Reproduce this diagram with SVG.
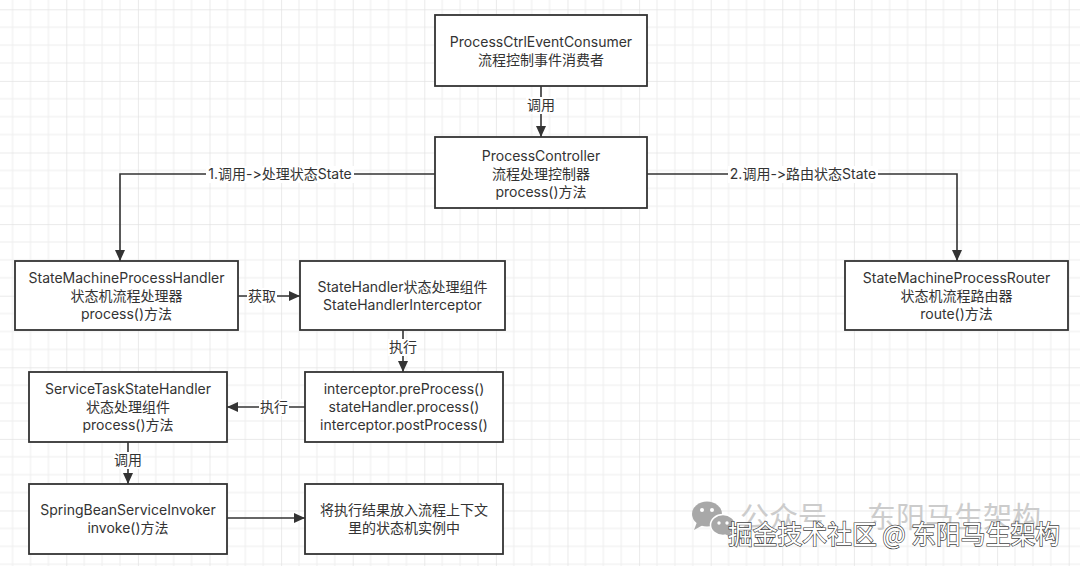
<svg xmlns="http://www.w3.org/2000/svg" width="1080" height="566" viewBox="0 0 1080 566">
<defs>
<pattern id="grid" patternUnits="userSpaceOnUse" x="66.3" y="9.3" width="71.6" height="71.6">
<rect x="0" y="0" width="71.6" height="71.6" fill="#ffffff"/>
<rect x="17.4" y="0" width="1" height="71.6" fill="#efefef"/>
<rect x="35.3" y="0" width="1" height="71.6" fill="#efefef"/>
<rect x="53.2" y="0" width="1" height="71.6" fill="#efefef"/>
<rect x="0" y="17.4" width="71.6" height="1" fill="#efefef"/>
<rect x="0" y="35.3" width="71.6" height="1" fill="#efefef"/>
<rect x="0" y="53.2" width="71.6" height="1" fill="#efefef"/>
<rect x="-0.5" y="0" width="1.2" height="71.6" fill="#e2e2e2"/>
<rect x="0" y="-0.5" width="71.6" height="1.2" fill="#e2e2e2"/>
</pattern>
<marker id="arr" markerUnits="userSpaceOnUse" markerWidth="12" markerHeight="12" viewBox="0 0 12 12" refX="11" refY="5" orient="auto">
<path d="M0,0 L11,5 L0,10 z" fill="#333333"/>
</marker>
</defs>
<style>
.box{fill:#ffffff;stroke:#333333;stroke-width:1.8}
.t{font-family:Inter,"Noto Sans CJK SC",sans-serif;font-size:14px;fill:#333333;text-anchor:middle;font-variant-ligatures:none;font-feature-settings:"calt" 0,"liga" 0}
.edge{fill:none;stroke:#333333;stroke-width:1.6}
.lbg{fill:#ffffff}
</style>
<rect width="1080" height="566" fill="url(#grid)"/>

<g id="connectors">
<path class="edge" d="M541 86 V137" marker-end="url(#arr)"/>
<path class="edge" d="M435 174 H120 V261" marker-end="url(#arr)"/>
<path class="edge" d="M647 174 H957 V261" marker-end="url(#arr)"/>
<path class="edge" d="M238 296 H300" marker-end="url(#arr)"/>
<path class="edge" d="M403 330 V372" marker-end="url(#arr)"/>
<path class="edge" d="M305 407 H227" marker-end="url(#arr)"/>
<path class="edge" d="M128 442 V484" marker-end="url(#arr)"/>
<path class="edge" d="M227 518 H305" marker-end="url(#arr)"/>
<rect class="lbg" x="526" y="97" width="30" height="17"/>
<text class="t" x="541" y="110">调用</text>
<rect class="lbg" x="206" y="166" width="148" height="17"/>
<text class="t" x="280" y="179">1.调用-&gt;处理状态State</text>
<rect class="lbg" x="728" y="166" width="150" height="17"/>
<text class="t" x="803" y="179">2.调用-&gt;路由状态State</text>
<rect class="lbg" x="247" y="288" width="30" height="17"/>
<text class="t" x="262" y="301">获取</text>
<rect class="lbg" x="388" y="339" width="30" height="17"/>
<text class="t" x="403" y="352">执行</text>
<rect class="lbg" x="259" y="399" width="30" height="17"/>
<text class="t" x="274" y="412">执行</text>
<rect class="lbg" x="113" y="452" width="30" height="17"/>
<text class="t" x="128" y="465">调用</text>
</g>

<g id="consumer">
<rect class="box" x="435" y="15" width="212" height="71"/>
<text class="t" x="541" y="46.5">ProcessCtrlEventConsumer</text>
<text class="t" x="541" y="64.5">流程控制事件消费者</text>
</g>

<g id="controller">
<rect class="box" x="435" y="137" width="212" height="71"/>
<text class="t" x="541" y="160.5">ProcessController</text>
<text class="t" x="541" y="178.5">流程处理控制器</text>
<text class="t" x="541" y="196.5">process()方法</text>
</g>

<g id="handler">
<rect class="box" x="15" y="261" width="223" height="69"/>
<text class="t" x="126.5" y="282.5">StateMachineProcessHandler</text>
<text class="t" x="126.5" y="300.5">状态机流程处理器</text>
<text class="t" x="126.5" y="318.5">process()方法</text>
</g>

<g id="statehandler">
<rect class="box" x="300" y="261" width="205" height="69"/>
<text class="t" x="402.5" y="291.5">StateHandler状态处理组件</text>
<text class="t" x="402.5" y="309.5">StateHandlerInterceptor</text>
</g>

<g id="router">
<rect class="box" x="845" y="261" width="223" height="69"/>
<text class="t" x="956.5" y="282.5">StateMachineProcessRouter</text>
<text class="t" x="956.5" y="300.5">状态机流程路由器</text>
<text class="t" x="956.5" y="318.5">route()方法</text>
</g>

<g id="interceptor">
<rect class="box" x="305" y="372" width="198" height="70"/>
<text class="t" x="404" y="394">interceptor.preProcess()</text>
<text class="t" x="404" y="412">stateHandler.process()</text>
<text class="t" x="404" y="430">interceptor.postProcess()</text>
</g>

<g id="servicetask">
<rect class="box" x="29" y="372" width="198" height="70"/>
<text class="t" x="128" y="394">ServiceTaskStateHandler</text>
<text class="t" x="128" y="412">状态处理组件</text>
<text class="t" x="128" y="430">process()方法</text>
</g>

<g id="invoker">
<rect class="box" x="29" y="484" width="198" height="70"/>
<text class="t" x="128" y="515">SpringBeanServiceInvoker</text>
<text class="t" x="128" y="533">invoke()方法</text>
</g>

<g id="result">
<rect class="box" x="305" y="484" width="198" height="70"/>
<text class="t" x="404" y="515">将执行结果放入流程上下文</text>
<text class="t" x="404" y="533">里的状态机实例中</text>
</g>

<g id="watermark">
<ellipse cx="707" cy="514" rx="15" ry="12.5" fill="#a8a8a8"/>
<path d="M697 522 L694 530 L703 525 z" fill="#a8a8a8"/>
<circle cx="702" cy="510" r="2" fill="#ffffff"/>
<circle cx="712" cy="510" r="2" fill="#ffffff"/>
<ellipse cx="723" cy="525" rx="12.5" ry="10.5" fill="#a8a8a8" stroke="#ffffff" stroke-width="1.5"/>
<path d="M730 532 L734 539 L725 534 z" fill="#a8a8a8"/>
<circle cx="719" cy="523" r="1.7" fill="#ffffff"/>
<circle cx="727" cy="523" r="1.7" fill="#ffffff"/>
<text x="740" y="528" font-family="'Noto Sans CJK SC',sans-serif" font-size="29" fill="#cccccc"><tspan x="740">公众号</tspan><tspan x="867">东阳马生架构</tspan></text>
<text x="728" y="544" font-family="'Noto Sans CJK SC',sans-serif" font-size="26" fill="#ffffff" stroke="#444444" stroke-width="1.4" paint-order="stroke" textLength="332" lengthAdjust="spacingAndGlyphs">掘金技术社区 @ 东阳马生架构</text>
</g>
</svg>
